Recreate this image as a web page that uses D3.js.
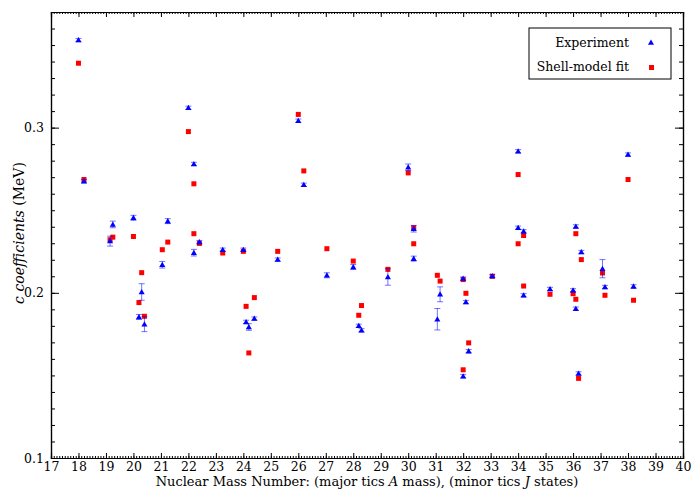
<!DOCTYPE html>
<html>
<head>
<meta charset="utf-8">
<script src="https://cdn.jsdelivr.net/npm/d3@7"></script>
<style>
  body { margin: 0; background: #fff; }
  .axis path, .axis line { stroke: #000; }
  .axis text { fill: #000; }
</style>
</head>
<body>
<div id="chart"></div>
<script>
// ===== Data =====
// x position = mass A plus an offset for the J state
let massPos = [18.0, 18.2, 19.15, 19.25, 20.0, 20.2, 20.3, 20.4, 21.05, 21.25,
  22.0, 22.2, 22.2, 22.4, 23.25, 24.0, 24.1, 24.2, 24.4, 25.25,
  26.0, 26.2, 27.04, 28.0, 28.2, 28.3, 29.26, 30.0, 30.2, 30.2,
  31.06, 31.16, 32.0, 32.1, 32.2, 32.0, 33.06, 34.0, 34.0, 34.2,
  34.2, 35.16, 36.0, 36.1, 36.1, 36.2, 36.3, 37.07, 37.16, 38.0, 38.2];

let expValues = [0.353, 0.2676, 0.2313, 0.2414, 0.2454, 0.1854, 0.2005, 0.181, 0.217, 0.2434,
  0.312, 0.278, 0.2243, 0.2307, 0.2261, 0.2261, 0.1824, 0.1793, 0.1844, 0.2201,
  0.3042, 0.2654, 0.2106, 0.2156, 0.18, 0.1773, 0.2096, 0.276, 0.2388, 0.2207,
  0.184, 0.1991, 0.2086, 0.1944, 0.1647, 0.1495, 0.2102, 0.2857, 0.2394, 0.2372,
  0.1985, 0.2023, 0.2015, 0.2402, 0.1904, 0.1512, 0.2247, 0.2146, 0.2035, 0.2837, 0.2039];

let expErrors = [0.001, 0.001, 0.003, 0.002, 0.0015, 0.0015, 0.005, 0.0045, 0.002, 0.0015,
  0.001, 0.001, 0.002, 0.001, 0.001, 0.001, 0.001, 0.002, 0.001, 0.001,
  0.001, 0.001, 0.0015, 0.0015, 0.001, 0.001, 0.005, 0.002, 0.002, 0.0015,
  0.0065, 0.0045, 0.001, 0.001, 0.001, 0.001, 0.001, 0.001, 0.001, 0.001,
  0.001, 0.001, 0.001, 0.001, 0.001, 0.001, 0.001, 0.0055, 0.001, 0.001, 0.001];

let fitValues = [0.339, 0.2686, 0.2321, 0.2337, 0.2341, 0.1941, 0.2122, 0.1858, 0.2261, 0.2307,
  0.2976, 0.266, 0.2358, 0.2299, 0.2241, 0.2251, 0.1918, 0.1636, 0.1971, 0.2251,
  0.308, 0.2738, 0.2267, 0.2192, 0.1864, 0.1923, 0.2142, 0.2726, 0.2394, 0.2297,
  0.2106, 0.2071, 0.208, 0.1997, 0.1697, 0.1534, 0.21, 0.2716, 0.2297, 0.2347,
  0.2041, 0.1991, 0.1995, 0.2358, 0.1961, 0.1482, 0.2201, 0.212, 0.1985, 0.2686, 0.1955];

let xTicks = d3.range(17, 41);
let yTicks = [0.1, 0.2, 0.3];
let seriesNames = ["Experiment", "Shell-model fit"];

let serif = "DejaVu Serif";

let margin = {top: 12, right: 17, bottom: 32, left: 51},
    width = 700 - margin.left - margin.right,
    height = 490 - margin.top - margin.bottom;

let x = d3.scaleLinear().domain([17, 40]).range([0, width]),
    y = d3.scaleLinear().domain([0.1, 0.37]).range([height, 0]);

let svg = d3.select("#chart").append("svg")
    .attr("width", 700)
    .attr("height", 490)
    .style("font-family", serif);

let g = svg.append("g")
    .attr("transform", "translate(" + margin.left + "," + margin.top + ")");

// ===== Axes: ticks point inward on all four sides =====
let xMinor = d3.range(170, 401).map(d => d / 10),
    yMinor = d3.range(10, 38).map(d => d / 100);

g.append("g").attr("class", "axis")
    .attr("transform", "translate(0," + height + ")")
    .call(d3.axisBottom(x).tickValues(xMinor).tickSize(-2).tickFormat(""));
g.append("g").attr("class", "axis axis--x")
    .attr("transform", "translate(0," + height + ")")
    .call(d3.axisBottom(x).tickValues(xTicks).tickSize(-5).tickPadding(4).tickFormat(d3.format("d")));
g.append("g").attr("class", "axis")
    .call(d3.axisTop(x).tickValues(xMinor).tickSize(-2).tickFormat(""));
g.append("g").attr("class", "axis")
    .call(d3.axisTop(x).tickValues(xTicks).tickSize(-5).tickFormat(""));

g.append("g").attr("class", "axis")
    .call(d3.axisLeft(y).tickValues(yMinor).tickSize(-4).tickFormat(""));
g.append("g").attr("class", "axis axis--y")
    .call(d3.axisLeft(y).tickValues(yTicks).tickSize(-8).tickPadding(7).tickFormat(d3.format(".1f")));
g.append("g").attr("class", "axis")
    .attr("transform", "translate(" + width + ",0)")
    .call(d3.axisRight(y).tickValues(yMinor).tickSize(-4).tickFormat(""));
g.append("g").attr("class", "axis")
    .attr("transform", "translate(" + width + ",0)")
    .call(d3.axisRight(y).tickValues(yTicks).tickSize(-8).tickFormat(""));

g.selectAll(".axis").attr("font-family", null).attr("font-size", 12.5);
g.selectAll(".axis path.domain").attr("stroke-width", 1.2);

// ===== Axis titles =====
let xTitle = svg.append("text")
    .attr("x", margin.left + width / 2)
    .attr("y", 486)
    .attr("text-anchor", "middle")
    .attr("font-size", 13);
xTitle.append("tspan").text("Nuclear Mass Number: (major tics ");
xTitle.append("tspan").attr("font-style", "italic").text("A");
xTitle.append("tspan").text(" mass), (minor tics ");
xTitle.append("tspan").attr("font-style", "italic").text("J");
xTitle.append("tspan").text(" states)");

let yTitle = svg.append("text")
    .attr("transform", "translate(24," + (margin.top + height / 2 - 2) + ") rotate(-90)")
    .attr("text-anchor", "middle")
    .attr("font-size", 14);
yTitle.append("tspan").attr("font-style", "italic").text("c coefficients");
yTitle.append("tspan").text(" (MeV)");

// ===== Points =====
let points = massPos.map((a, i) => ({a: a, exp: expValues[i], err: expErrors[i], fit: fitValues[i]}));

let tri = d3.symbol().type(d3.symbolTriangle).size(16);

g.selectAll(".fit")
    .data(points)
  .enter().append("rect")
    .attr("class", "fit")
    .attr("fill", "#ff0000")
    .attr("x", d => x(d.a) - 2.5)
    .attr("y", d => y(d.fit) - 2.5)
    .attr("width", 5)
    .attr("height", 5);

let bars = g.selectAll(".err")
    .data(points)
  .enter().append("g")
    .attr("class", "err")
    .attr("stroke", "#0000ff")
    .attr("stroke-opacity", 0.55)
    .attr("stroke-width", 1);
bars.append("line")
    .attr("x1", d => x(d.a)).attr("x2", d => x(d.a))
    .attr("y1", d => y(d.exp - d.err)).attr("y2", d => y(d.exp + d.err));
bars.append("line")
    .attr("x1", d => x(d.a) - 3).attr("x2", d => x(d.a) + 3)
    .attr("y1", d => y(d.exp - d.err)).attr("y2", d => y(d.exp - d.err));
bars.append("line")
    .attr("x1", d => x(d.a) - 3).attr("x2", d => x(d.a) + 3)
    .attr("y1", d => y(d.exp + d.err)).attr("y2", d => y(d.exp + d.err));

g.selectAll(".exp")
    .data(points)
  .enter().append("path")
    .attr("class", "exp")
    .attr("fill", "#0000ff")
    .attr("d", tri)
    .attr("transform", d => "translate(" + x(d.a) + "," + (y(d.exp) + 0.5) + ")");

// ===== Legend =====
let legend = svg.append("g").attr("transform", "translate(529,28)");
legend.append("rect")
    .attr("width", 142).attr("height", 51)
    .attr("fill", "#fff").attr("stroke", "#000").attr("stroke-width", 1);

legend.selectAll("text")
    .data(seriesNames)
  .enter().append("text")
    .attr("x", 100)
    .attr("y", (d, i) => 19 + i * 24)
    .attr("text-anchor", "end")
    .attr("font-size", 12.5)
    .text(d => d);

legend.append("path")
    .attr("fill", "#0000ff")
    .attr("d", tri)
    .attr("transform", "translate(122,15)");
legend.append("rect")
    .attr("fill", "#ff0000")
    .attr("x", 120).attr("y", 37)
    .attr("width", 5).attr("height", 5);
</script>
</body>
</html>
